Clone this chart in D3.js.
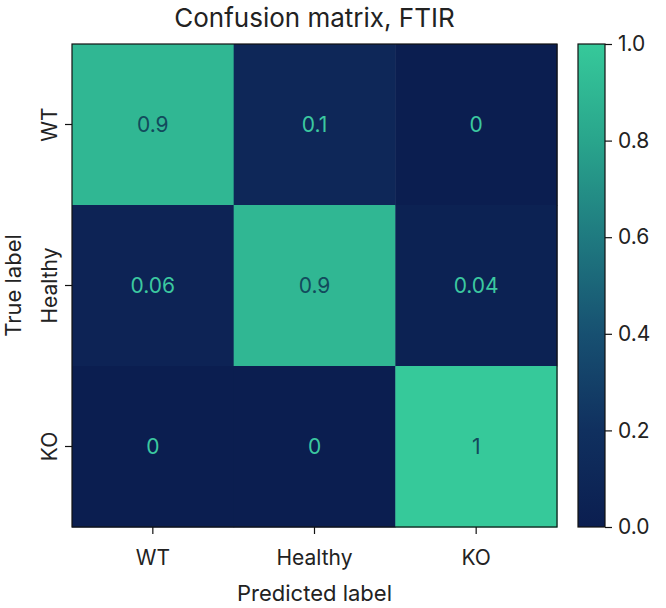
<!DOCTYPE html>
<html><head><meta charset="utf-8">
<script src="https://cdn.jsdelivr.net/npm/d3@7"></script>
<style>body{margin:0;background:#fff}</style>
</head><body>
<svg id="c" width="666" height="608"></svg>
<script>
const predictedLabels = ["WT", "Healthy", "KO"];
const trueLabels = ["WT", "Healthy", "KO"];
const matrixWT = [0.9, 0.1, 0];
const matrixHealthy = [0.06, 0.9, 0.04];
const matrixKO = [0, 0, 1];
const colorbarTicks = [0.0, 0.2, 0.4, 0.6, 0.8, 1.0];

const rows = [matrixWT, matrixHealthy, matrixKO];
const cells = [];
rows.forEach((r, i) => r.forEach((v, j) => cells.push({t: trueLabels[i], p: predictedLabels[j], v})));

const font = "Inter, 'Liberation Sans', sans-serif";
const svg = d3.select("#c");
const L = 72, R = 557, T = 44, B = 527;
const x = d3.scaleBand().domain(predictedLabels).range([L, R]);
const y = d3.scaleBand().domain(trueLabels).range([T, B]);
const stops = [0, 0.2, 0.4, 0.6, 0.8, 1];
const stopColors = ["#0b1e50", "#10305f", "#175071", "#1f7a80", "#29a58c", "#36c99a"];
const color = d3.scaleLinear().domain(stops).range(stopColors);

svg.selectAll("rect.cell").data(cells).join("rect")
  .attr("class", "cell")
  .attr("x", d => x(d.p)).attr("y", d => y(d.t))
  .attr("width", x.bandwidth() + 0.5).attr("height", y.bandwidth() + 0.5)
  .attr("fill", d => color(d.v));

svg.selectAll("text.ann").data(cells).join("text")
  .attr("class", "ann")
  .attr("x", d => x(d.p) + x.bandwidth() / 2)
  .attr("y", d => y(d.t) + y.bandwidth() / 2)
  .attr("text-anchor", "middle").attr("dominant-baseline", "central")
  .attr("font-family", font).attr("font-size", 21)
  .attr("fill", d => d.v > 0.5 ? "#124a5c" : "#3cc9a0")
  .text(d => d3.format("~g")(d.v));

svg.append("rect").attr("x", L).attr("y", T).attr("width", R - L).attr("height", B - T)
  .attr("fill", "none").attr("stroke", "#111").attr("stroke-width", 1.2);

const xAxis = svg.append("g").attr("transform", `translate(0,${B})`)
  .call(d3.axisBottom(x).tickSize(7).tickPadding(16));
const yAxis = svg.append("g").attr("transform", `translate(${L},0)`)
  .call(d3.axisLeft(y).tickSize(7).tickPadding(6));
[xAxis, yAxis].forEach(a => {
  a.select(".domain").remove();
  a.selectAll("line").attr("stroke", "#111").attr("stroke-width", 1.2);
  a.selectAll("text").attr("font-family", font).attr("font-size", 21).attr("fill", "#222");
});
yAxis.selectAll(".tick text")
  .attr("transform", "rotate(-90)")
  .attr("x", 0).attr("y", -15).attr("dy", "0").attr("text-anchor", "middle")
  .attr("dominant-baseline", "auto");

svg.append("text").attr("x", (L + R) / 2).attr("y", 27).attr("text-anchor", "middle")
  .attr("font-family", font).attr("font-size", 26).attr("fill", "#222")
  .text("Confusion matrix, FTIR");
svg.append("text").attr("x", (L + R) / 2).attr("y", 601).attr("text-anchor", "middle")
  .attr("font-family", font).attr("font-size", 22).attr("fill", "#222")
  .text("Predicted label");
svg.append("text").attr("transform", `translate(21,${(T + B) / 2}) rotate(-90)`)
  .attr("text-anchor", "middle")
  .attr("font-family", font).attr("font-size", 22).attr("fill", "#222")
  .text("True label");

// colorbar
const CL = 578, CR = 605;
const cy = d3.scaleLinear().domain([0, 1]).range([B, T]);
const defs = svg.append("defs");
const grad = defs.append("linearGradient").attr("id", "g").attr("x1", 0).attr("y1", 1).attr("x2", 0).attr("y2", 0);
grad.selectAll("stop").data(stops).join("stop")
  .attr("offset", d => d).attr("stop-color", d => color(d));
svg.append("rect").attr("x", CL).attr("y", T).attr("width", CR - CL).attr("height", B - T)
  .attr("fill", "url(#g)").attr("stroke", "#111").attr("stroke-width", 1.2);
const cAxis = svg.append("g").attr("transform", `translate(${CR},0)`)
  .call(d3.axisRight(cy).tickValues(colorbarTicks).tickFormat(d3.format(".1f")).tickSize(7).tickPadding(6));
cAxis.select(".domain").remove();
cAxis.selectAll("line").attr("stroke", "#111").attr("stroke-width", 1.2);
cAxis.selectAll("text").attr("font-family", font).attr("font-size", 21).attr("fill", "#222");
</script>
</body></html>
